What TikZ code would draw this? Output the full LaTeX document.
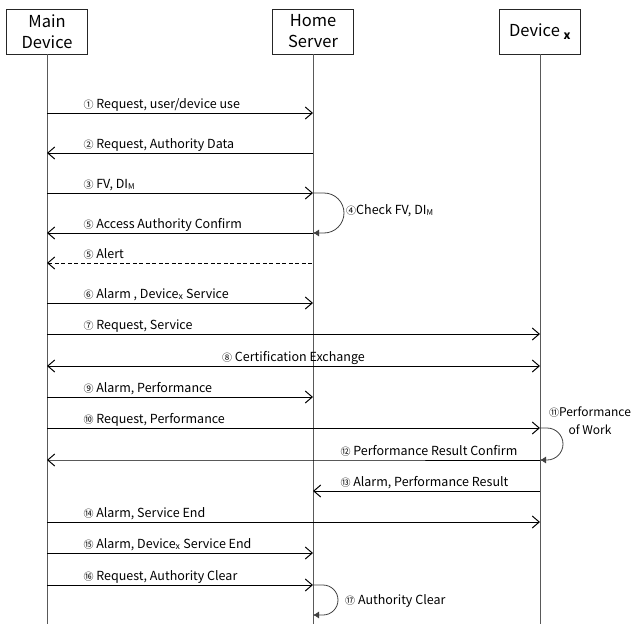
\documentclass[tikz,border=0pt]{standalone}
\usepackage{fontspec}
\setmainfont{Noto Sans CJK KR}
\newfontfamily\circfont{Noto Sans CJK KR}
\usetikzlibrary{arrows.meta}

\newcommand{\cnum}[1]{{\circfont\fontsize{10}{10}\selectfont #1}}
\newcommand{\lowsub}[1]{\raisebox{-1pt}{\fontsize{8}{8}\selectfont #1}}

\tikzset{
    head/.style={draw=black!85, line width=0.8pt, minimum width=81pt, minimum height=45pt,
        align=center, inner sep=0pt, font=\fontsize{16.5}{21}\selectfont},
    life/.style={draw=black!65, line width=0.8pt},
    msg/.style={line width=1pt, -{Straight Barb[length=7pt,width=12pt]}},
    back/.style={line width=1pt, {Straight Barb[length=7pt,width=12pt]}-},
    both/.style={line width=1pt, {Straight Barb[length=7pt,width=12pt]}-{Straight Barb[length=7pt,width=12pt]}},
    alert/.style={back, dash pattern=on 4pt off 2.5pt},
    selfloop/.style={draw=black!75, line width=0.8pt, -{Latex[length=6pt,width=7pt]}},
    lbl/.style={font=\fontsize{12.5}{15}\selectfont, anchor=base west, inner sep=0pt, yshift=5pt},
    lft/.style={lbl, at start, xshift=36pt},
    note/.style={font=\fontsize{12.5}{18}\selectfont, inner sep=0pt}
}

\begin{document}
\begin{tikzpicture}[x=1pt, y=-1pt]
    \useasboundingbox (0,0) rectangle (633,624);
    % heads and life lines
    \path node[head] (main) at (47,31.5) {Main\\Device}
        node[head] (home) at (313,31.5) {Home\\Server}
        node[head] (dev) at (540,31.5) {Device \textsubscript{\bfseries x}};
    \foreach \h in {main,home,dev}
        \draw[life] (\h) -- (\h |- 0,624);
    % one row of points per message
    \foreach \n/\y in {1/113, 2/153, 3/193, 5/233, 5b/263, 6/303, 7/334, 8/366, 9/397,
            10/428, 12/460, 13/491, 14/522, 15/553, 16/585, 17/615} {
        \coordinate (m\n) at (main |- 0,\y);
        \coordinate (h\n) at (home |- 0,\y);
        \coordinate (d\n) at (dev |- 0,\y);
    }
    \draw[msg] (m1) -- node[lft] {\cnum{①} Request, user/device use} (h1);
    \draw[back] (m2) -- node[lft] {\cnum{②} Request, Authority Data} (h2);
    \draw[msg] (m3) -- node[lft] {\cnum{③} FV, DI\lowsub{M}} (h3);
    \draw[selfloop] (h3) -- ++(11pt,0pt) arc[start angle=90, end angle=-90, radius=20pt] -- (h5);
    \node[note, anchor=west] (n4) at (346,211) {\cnum{④}Check FV, DI\lowsub{M}};
    \draw[back] (m5) -- node[lft] {\cnum{⑤} Access Authority Confirm} (h5);
    \draw[alert] (m5b) -- node[lft] {\cnum{⑤} Alert} (h5b);
    \draw[msg] (m6) -- node[lft] {\cnum{⑥} Alarm , Device\textsubscript{\itshape x} Service} (h6);
    \draw[msg] (m7) -- node[lft] {\cnum{⑦} Request, Service} (d7);
    \draw[both] (m8) -- node[lbl, midway, anchor=base] {\cnum{⑧} Certification Exchange} (d8);
    \draw[msg] (m9) -- node[lft] {\cnum{⑨} Alarm, Performance} (h9);
    \draw[msg] (m10) -- node[lft] {\cnum{⑩} Request, Performance} (d10);
    \draw[selfloop] (d10) -- ++(7pt,0pt) arc[start angle=90, end angle=-90, radius=16pt] -- (d12);
    \node[note, align=center, font=\fontsize{12}{18}\selectfont] (n11) at (590,421) {\cnum{⑪}Performance\\of Work};
    \draw[back] (m12) -- (h12) -- node[lbl, at start, xshift=27pt] {\cnum{⑫} Performance Result Confirm} (d12);
    \draw[back] (h13) -- node[lbl, at start, xshift=27pt] {\cnum{⑬} Alarm, Performance Result} (d13);
    \draw[msg] (m14) -- node[lft] {\cnum{⑭} Alarm, Service End} (d14);
    \draw[msg] (m15) -- node[lft] {\cnum{⑮} Alarm, Device\textsubscript{\itshape x} Service End} (h15);
    \draw[msg] (m16) -- node[lft] {\cnum{⑯} Request, Authority Clear} (h16);
    \draw[selfloop] (h16) -- ++(10pt,0pt) arc[start angle=90, end angle=-90, radius=15pt] -- (h17);
    \node[note, anchor=west] (n17) at (345,601) {\cnum{⑰} Authority Clear};
\end{tikzpicture}
\end{document}
